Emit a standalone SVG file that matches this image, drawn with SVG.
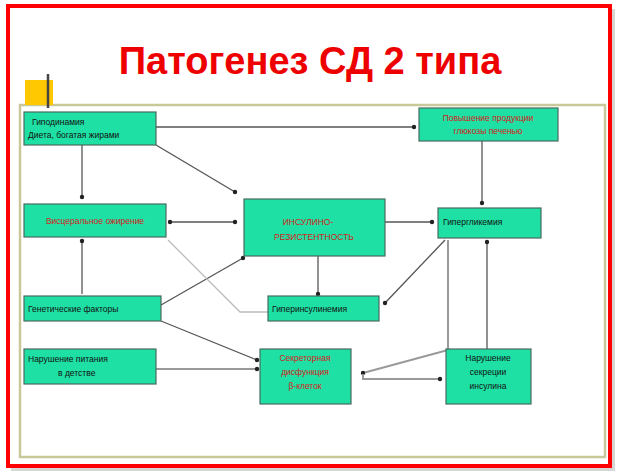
<svg xmlns="http://www.w3.org/2000/svg" width="620" height="476" viewBox="0 0 620 476">
<defs>
<style>
.b{fill:#1fe0a4;stroke:#4a6a60;stroke-width:1.2}
.t{font-family:"Liberation Sans",Arial,sans-serif;font-size:8.5px;fill:#111}
.r{fill:#d42020}
.c{stroke:#555;stroke-width:1.3;fill:none}
</style>
<marker id="d" markerWidth="6" markerHeight="6" refX="3" refY="3" markerUnits="userSpaceOnUse"><circle cx="3" cy="3" r="2.2" fill="#222"/></marker>
</defs>
<rect width="620" height="476" fill="#fff"/>
<rect x="11" y="9" width="604" height="462" fill="#bbb" opacity="0.6"/>
<rect x="8" y="6" width="602" height="460" fill="#fff" stroke="#f00" stroke-width="4"/>
<rect x="20" y="105" width="585" height="352" fill="#fff" stroke="#c8c89a" stroke-width="2.5"/>
<rect x="25" y="80" width="28" height="25" fill="#ffc800"/>
<line x1="48" y1="74" x2="48" y2="108" stroke="#444" stroke-width="2.5"/>
<text x="310" y="74" text-anchor="middle" font-family="Liberation Sans,Arial,sans-serif" font-size="38" font-weight="bold" fill="#e00">Патогенез СД 2 типа</text>
<g id="connectors">
<line class="c" x1="156" y1="127" x2="414" y2="127" marker-end="url(#d)"/>
<line class="c" x1="82" y1="145" x2="82" y2="197" marker-end="url(#d)"/>
<line class="c" x1="156" y1="145" x2="235" y2="192" marker-end="url(#d)"/>
<line class="c" x1="482" y1="141" x2="482" y2="203" marker-end="url(#d)"/>
<line class="c" x1="170" y1="222" x2="235" y2="222" marker-start="url(#d)" marker-end="url(#d)"/>
<line class="c" x1="385" y1="222" x2="432" y2="222" marker-end="url(#d)"/>
<line class="c" x1="82" y1="294" x2="82" y2="241" marker-end="url(#d)"/>
<line class="c" x1="161" y1="305" x2="243" y2="258" marker-end="url(#d)"/>
<path d="M168 240 L240 312 L268 312" stroke="#bbb" stroke-width="1.3" fill="none"/>
<line class="c" x1="318" y1="256" x2="318" y2="294" marker-end="url(#d)"/>
<line class="c" x1="445" y1="240" x2="385" y2="303" marker-end="url(#d)"/>
<path d="M448 240 L448 350 L363 373" stroke="#999" stroke-width="2" fill="none" marker-end="url(#d)"/>
<line class="c" x1="487" y1="242" x2="487" y2="352" marker-start="url(#d)" marker-end="url(#d)"/>
<line class="c" x1="161" y1="321" x2="257" y2="360" marker-end="url(#d)"/>
<line x1="156" y1="369" x2="257" y2="369" stroke="#999" stroke-width="2" marker-end="url(#d)"/>
<path d="M363 374 L363 379 L440 379" stroke="#999" stroke-width="2" fill="none" marker-end="url(#d)"/>
</g>
<g id="n1"><rect class="b" x="24" y="112" width="132" height="33"/><text class="t" x="32" y="125">Гиподинамия</text><text class="t" x="28" y="138">Диета, богатая жирами</text></g>
<g id="n2"><rect class="b" x="419" y="108" width="139" height="33"/><text class="t r" x="488" y="121" text-anchor="middle">Повышение продукции</text><text class="t r" x="488" y="134" text-anchor="middle">глюкозы печенью</text></g>
<g id="n3"><rect class="b" x="24" y="204" width="142" height="33"/><text class="t r" x="95" y="224" text-anchor="middle">Висцеральное ожирение</text></g>
<g id="n4"><rect class="b" x="244" y="199" width="141" height="57"/><text class="t r" x="308" y="225" text-anchor="middle">ИНСУЛИНО-</text><text class="t r" x="314" y="240" text-anchor="middle">РЕЗИСТЕНТНОСТЬ</text></g>
<g id="n5"><rect class="b" x="438" y="208" width="103" height="30"/><text class="t" x="443" y="225">Гипергликемия</text></g>
<g id="n6"><rect class="b" x="24" y="296" width="137" height="25"/><text class="t" x="28" y="312">Генетические факторы</text></g>
<g id="n7"><rect class="b" x="268" y="296" width="111" height="25"/><text class="t" x="272" y="312">Гиперинсулинемия</text></g>
<g id="n8"><rect class="b" x="24" y="349" width="132" height="35"/><text class="t" x="28" y="362">Нарушение питания</text><text class="t" x="58" y="376">в детстве</text></g>
<g id="n9"><rect class="b" x="260" y="349" width="91" height="55"/><text class="t r" x="305" y="361" text-anchor="middle">Секреторная</text><text class="t r" x="305" y="375" text-anchor="middle">дисфункция</text><text class="t r" x="305" y="389" text-anchor="middle">β-клеток</text></g>
<g id="n10"><rect class="b" x="446" y="349" width="85" height="55"/><text class="t" x="488" y="361" text-anchor="middle">Нарушение</text><text class="t" x="488" y="375" text-anchor="middle">секреции</text><text class="t" x="488" y="389" text-anchor="middle">инсулина</text></g>
</svg>
